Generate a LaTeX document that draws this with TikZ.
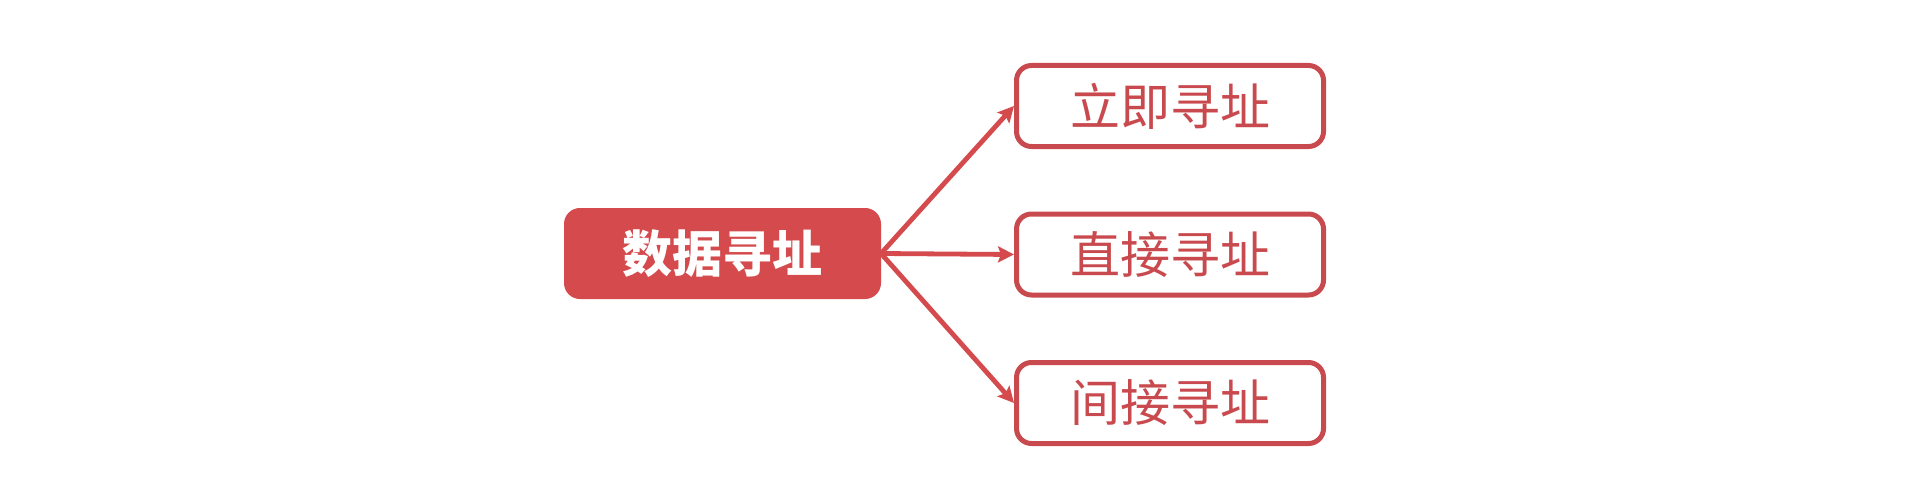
\documentclass[tikz,border=0pt]{standalone}
\usepackage{fontspec}
\newfontfamily\cjk{Noto Sans CJK SC}
\usepackage{tikz}
\usetikzlibrary{arrows.meta, positioning}

\definecolor{addrred}{RGB}{212,74,77}
\definecolor{boxred}{RGB}{201,74,78}

\begin{document}
\begin{tikzpicture}[
        x=0.5pt, y=-0.5pt,
        mainbox/.style={draw=addrred, fill=addrred, line width=1pt, rounded corners=7.5pt, minimum width=157.5pt, minimum height=44.5pt, inner sep=0pt, text=white, font=\cjk\bfseries\fontsize{25}{25}\selectfont},
        modebox/.style={draw=boxred, fill=white, line width=2.5pt, rounded corners=7.5pt, minimum width=153.5pt, minimum height=40.5pt, inner sep=0pt, text=boxred, font=\cjk\fontsize{25}{25}\selectfont},
        arrow/.style={-{Stealth[length=8pt, width=8pt, inset=1.5pt]}, line width=2.4pt, addrred}
    ]
    \useasboundingbox (0,0) rectangle (1920,476);

    % Data addressing
    \node[mainbox] (data) at (722.5, 253.5) {数据寻址};

    % Addressing modes
    \node[modebox] (imm) at (1170, 106) {立即寻址};
    \node[modebox] (direct) at (1170, 254.5) {直接寻址};
    \node[modebox] (indirect) at (1170, 403) {间接寻址};

    % Arrows
    \draw[arrow] (data.east) -- (imm.west);
    \draw[arrow] (data.east) -- (direct.west);
    \draw[arrow] (data.east) -- (indirect.west);

\end{tikzpicture}
\end{document}
